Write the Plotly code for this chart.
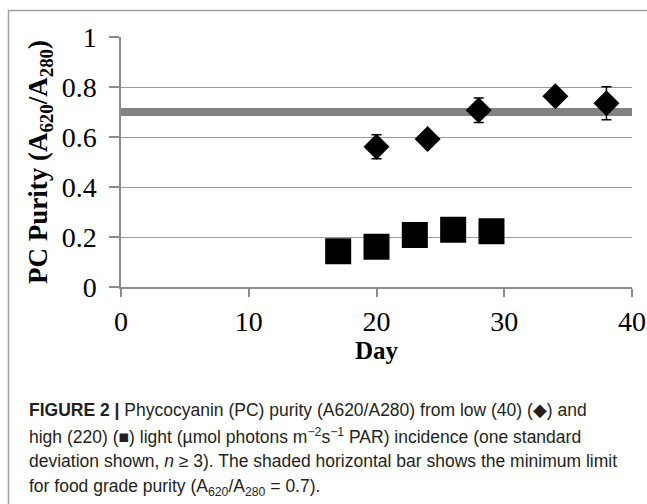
import plotly.graph_objects as go

# ---- data ----
low_days = [20, 24, 28, 34, 38]
low_purity = [0.561, 0.592, 0.707, 0.763, 0.735]
low_sd = [0.048, 0.0, 0.049, 0.0, 0.066]

high_days = [17, 20, 23, 26, 29]
high_purity = [0.143, 0.161, 0.208, 0.229, 0.223]

food_grade_limit = 0.7

x_ticks = [0, 10, 20, 30, 40]
y_ticks = [0, 0.2, 0.4, 0.6, 0.8, 1]

caption_lines = [
    "<b>FIGURE 2 |</b> Phycocyanin (PC) purity (A620/A280) from low (40) (◆) and",
    "high (220) (■) light (µmol photons m<sup>−2</sup>s<sup>−1</sup> PAR) incidence (one standard",
    "deviation shown, <i>n</i> ≥ 3). The shaded horizontal bar shows the minimum limit",
    "for food grade purity (A<sub>620</sub>/A<sub>280</sub> = 0.7).",
]

# ---- layout geometry (pixels) ----
W, H = 647, 504
L, R, T, B = 121, 15, 37, 217
plot_h = H - T - B
plot_w = W - L - R


def px_to_paper_x(px):
    return (px - L) / plot_w


def px_to_paper_y(py):
    return (H - B - py) / plot_h


fig = go.Figure()

fig.add_trace(go.Scatter(
    x=high_days, y=high_purity, mode="markers",
    marker=dict(symbol="square", size=26, color="black"),
    showlegend=False,
))

fig.add_trace(go.Scatter(
    x=low_days, y=low_purity, mode="markers",
    marker=dict(symbol="diamond", size=20, color="black"),
    error_y=dict(type="data", array=low_sd, visible=True,
                 color="black", thickness=1.5, width=5),
    showlegend=False,
))

shapes = [
    dict(type="line", xref="paper", yref="y", x0=0, x1=1,
         y0=food_grade_limit, y1=food_grade_limit,
         line=dict(color="#828282", width=8), layer="below"),
    dict(type="rect", xref="paper", yref="paper",
         x0=px_to_paper_x(8.5), x1=px_to_paper_x(700),
         y0=px_to_paper_y(600), y1=px_to_paper_y(10.5),
         line=dict(color="#a0a0a0", width=1.5), fillcolor="rgba(0,0,0,0)",
         layer="below"),
]

caption_y = [410, 436, 461, 487]
annotations = []
for line, py in zip(caption_lines, caption_y):
    annotations.append(dict(
        text=line, xref="paper", yref="paper",
        x=px_to_paper_x(27), y=px_to_paper_y(py),
        xanchor="left", yanchor="middle", showarrow=False,
        font=dict(family="Liberation Sans, Arial, sans-serif",
                  size=17.5, color="#231f20"),
        align="left",
    ))

serif = "Liberation Serif, Times New Roman, serif"

fig.update_layout(
    width=W, height=H,
    margin=dict(l=L, r=R, t=T, b=B, pad=0, autoexpand=False),
    paper_bgcolor="white", plot_bgcolor="white",
    shapes=shapes, annotations=annotations,
    font=dict(family=serif, color="black"),
    hovermode=False,
    xaxis=dict(
        range=[0, 40], tickmode="array", tickvals=x_ticks,
        ticks="outside", ticklen=8, tickcolor="#8c8c8c", tickwidth=1.5,
        showline=True, linecolor="#8c8c8c", linewidth=1.5,
        showgrid=False, zeroline=False, automargin=False,
        ticklabelstandoff=1,
        tickfont=dict(family=serif, size=28, color="black"),
        title=dict(text="<b>Day</b>", font=dict(family=serif, size=25, color="black"),
                   standoff=0),
    ),
    yaxis=dict(
        range=[0, 1], tickmode="array", tickvals=y_ticks,
        ticks="outside", ticklen=10, tickcolor="#8c8c8c", tickwidth=1.5,
        showline=True, linecolor="#8c8c8c", linewidth=1.5,
        showgrid=True, gridcolor="#9a9a9a", gridwidth=1.2,
        zeroline=False, automargin=False,
        ticklabelstandoff=7,
        tickfont=dict(family=serif, size=28, color="black"),
        title=dict(text="<b>PC Purity (A<sub>620</sub>/A<sub>280</sub>)</b>",
                   font=dict(family=serif, size=27, color="black"),
                   standoff=6),
    ),
)

fig.write_html("out.html",
               config={"displayModeBar": False},
               post_script="document.body.style.margin='0';document.body.style.overflow='hidden';")
